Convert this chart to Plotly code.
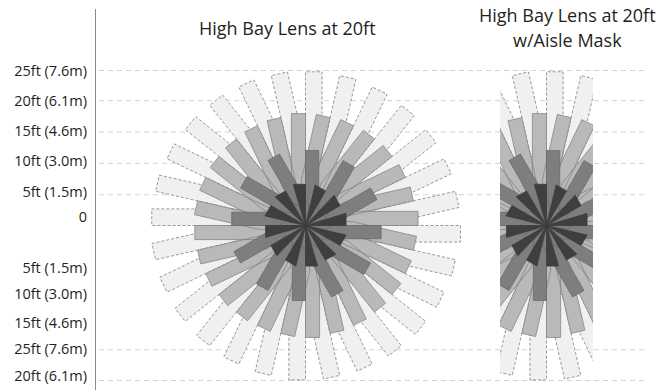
import numpy as np
import plotly.graph_objects as go

# ---------------------------------------------------------------------------
# Detection pattern data (feet). The far and upper-mid tiers have 28 facets,
# the lower-mid and near tiers have 12 facets.
# ---------------------------------------------------------------------------
FAR_FACETS_DEG = [0.0, 12.86, 25.71, 38.57, 51.43, 64.29, 77.14,
                  90.0, 102.86, 115.71, 128.57, 141.43, 154.29, 167.14,
                  180.0, 192.86, 205.71, 218.57, 231.43, 244.29, 257.14,
                  270.0, 282.86, 295.71, 308.57, 321.43, 334.29, 347.14]
NEAR_FACETS_DEG = [0.0, 30.0, 60.0, 90.0, 120.0, 150.0,
                   180.0, 210.0, 240.0, 270.0, 300.0, 330.0]

FAR_REACH_FT = [25.2, 25.0, 25.0, 25.0, 25.0, 25.0, 25.0,
                25.0, 25.0, 25.0, 25.0, 25.0, 25.0, 25.0,
                25.0, 25.0, 25.0, 25.0, 25.0, 25.0, 25.0,
                25.1, 25.0, 25.0, 25.0, 25.0, 25.0, 25.0]
UPPER_MID_REACH_FT = [18.3, 18.0, 18.0, 18.0, 18.0, 18.0, 18.0,
                      18.2, 18.0, 18.0, 18.0, 18.0, 18.0, 18.0,
                      18.0, 18.0, 18.0, 18.0, 18.0, 18.0, 18.0,
                      18.2, 18.0, 18.0, 18.0, 18.0, 18.0, 18.0]
LOWER_MID_REACH_FT = [12.3, 12.2, 12.2, 12.2, 12.2, 12.2,
                      12.0, 12.2, 12.2, 12.2, 12.2, 12.2]
NEAR_REACH_FT = [6.6, 6.5, 6.5, 6.7, 6.5, 6.5,
                 6.5, 6.5, 6.5, 6.6, 6.5, 6.5]

TICK_LABELS = ["25ft (7.6m)", "20ft (6.1m)", "15ft (4.6m)", "10ft (3.0m)", "5ft (1.5m)",
               "0",
               "5ft (1.5m)", "10ft (3.0m)", "15ft (4.6m)", "25ft (7.6m)", "20ft (6.1m)"]

TITLE_LEFT = "High Bay Lens at 20ft"
TITLE_RIGHT = ["High Bay Lens at 20ft", "w/Aisle Mask"]

# ---------------------------------------------------------------------------
# Layout geometry and styles
# ---------------------------------------------------------------------------
W, H = 671, 390
PX_PER_FT = 6.15
CX_LEFT, CX_RIGHT, CY = 305.5, 546.5, 225.5      # pattern centres (px)
AXIS_X, AXIS_TOP = 96, 9
MASK_X0, MASK_X1 = 500, 593                        # aisle-mask window (px)

TICK_POS_FT = [25.2, 20.3, 15.4, 10.5, 5.5, 1.4, -6.9, -11.2, -15.8, -20.1, -24.5]
GRID_POS_FT = [25.2, 20.3, 15.2, 10.1, 5.0, -20.2, -25.2]

# (facets, reach, fill, outline, dash, side, width ft, taper ft)
# side -1 puts the beam clockwise of its facet ray, +1 counter-clockwise;
# each beam widens from the lens out to its full width at the taper distance.
TIERS = [
    (FAR_FACETS_DEG, FAR_REACH_FT, "#f0f0f0", "#6e6e6e", "3px,2px", -1, 2.7, 10.0),
    (FAR_FACETS_DEG, UPPER_MID_REACH_FT, "#b9b9b9", "#7d7d7d", "solid", 1, 2.3, 7.0),
    (NEAR_FACETS_DEG, LOWER_MID_REACH_FT, "#7e7e7e", "#666666", "solid", -1, 2.15, 2.5),
    (NEAR_FACETS_DEG, NEAR_REACH_FT, "#3f3f3f", "#3a3a3a", "solid", 1, 1.95, 6.5),
]


def beam_path(angles_deg, reaches, side, width, taper):
    """Outline of every beam of one tier, as x/y lists separated by None."""
    xs, ys = [], []
    for a, reach in zip(angles_deg, reaches):
        t = np.deg2rad(a)
        u = np.array([np.cos(t), np.sin(t)])
        n = side * np.array([-np.sin(t), np.cos(t)])
        ta = min(taper, reach)
        pts = [np.zeros(2), reach * u, reach * u + width * n, ta * u + width * n, np.zeros(2)]
        xs += [p[0] for p in pts] + [None]
        ys += [p[1] for p in pts] + [None]
    return xs, ys


fig = go.Figure()

for xaxis in ("x", "x2"):
    for facets, reach, fill, line, dash, side, width, taper in TIERS:
        xs, ys = beam_path(facets, reach, side, width, taper)
        fig.add_trace(go.Scatter(
            x=xs, y=ys, mode="lines", fill="toself", fillcolor=fill,
            line=dict(color=line, width=0.7, dash=dash),
            xaxis=xaxis, yaxis="y", hoverinfo="skip", showlegend=False,
        ))

y_lo = (CY - H) / PX_PER_FT
y_hi = (CY - AXIS_TOP) / PX_PER_FT
half_mask = (MASK_X1 - MASK_X0) / 2 / PX_PER_FT

fig.update_layout(
    width=W, height=H,
    margin=dict(l=0, r=0, t=0, b=0),
    paper_bgcolor="white", plot_bgcolor="rgba(0,0,0,0)",
    font=dict(family="Open Sans, sans-serif", color="#231f20"),
    xaxis=dict(domain=[AXIS_X / W, 1], range=[(AXIS_X - CX_LEFT) / PX_PER_FT, (W - CX_LEFT) / PX_PER_FT],
               visible=False, fixedrange=True),
    xaxis2=dict(domain=[MASK_X0 / W, MASK_X1 / W], range=[-half_mask, half_mask],
                visible=False, anchor="y", fixedrange=True),
    yaxis=dict(domain=[0, 1 - AXIS_TOP / H], range=[y_lo, y_hi],
               tickvals=TICK_POS_FT, ticktext=TICK_LABELS, ticks="",
               showgrid=False, zeroline=False, showline=True,
               linecolor="#8a8a8a", linewidth=1.3,
               tickfont=dict(size=14.5, color="#231f20"), ticklabelstandoff=5,
               fixedrange=True),
)

for g in GRID_POS_FT:
    fig.add_shape(type="line", xref="x", yref="y", layer="below",
                  x0=(AXIS_X + 3 - CX_LEFT) / PX_PER_FT, x1=(648 - CX_LEFT) / PX_PER_FT,
                  y0=g, y1=g, line=dict(color="#d2d2d2", width=1, dash="5px,4px"))

fig.add_annotation(text=TITLE_LEFT, xref="paper", yref="paper",
                   x=287.5 / W, y=1 - 28 / H, showarrow=False,
                   font=dict(size=18), xanchor="center", yanchor="middle")
for i, line in enumerate(TITLE_RIGHT):
    fig.add_annotation(text=line, xref="paper", yref="paper",
                       x=567 / W, y=1 - (15 + 24.7 * i) / H, showarrow=False,
                       font=dict(size=18), xanchor="center", yanchor="middle")

fig.write_html("out.html")
